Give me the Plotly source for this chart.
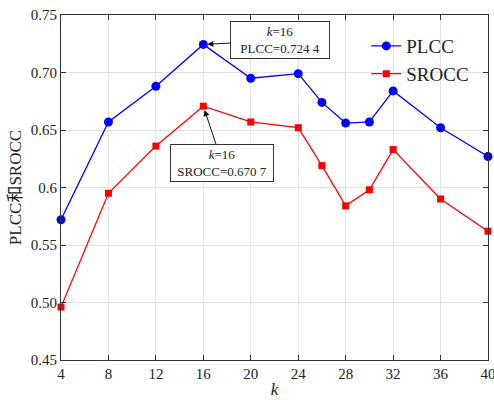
import plotly.graph_objects as go

k_values = [4, 8, 12, 16, 20, 24, 26, 28, 30, 32, 36, 40]
plcc = [0.572, 0.657, 0.688, 0.7244, 0.695, 0.699, 0.674, 0.656, 0.657, 0.684, 0.652, 0.627]
srocc = [0.496, 0.595, 0.636, 0.6707, 0.657, 0.652, 0.619, 0.584, 0.598, 0.633, 0.590, 0.562]
x_ticks = [4, 8, 12, 16, 20, 24, 28, 32, 36, 40]
y_ticks = [0.45, 0.50, 0.55, 0.60, 0.65, 0.70, 0.75]
y_tick_labels = ["0.45", "0.50", "0.55", "0.6", "0.65", "0.70", "0.75"]

serif = "Liberation Serif"
serif_cjk = "Liberation Serif, Noto Sans CJK SC"

fig = go.Figure()
fig.add_trace(go.Scatter(
    x=k_values, y=plcc, name="PLCC", mode="lines+markers",
    line=dict(color="#0000FF", width=1.3),
    marker=dict(symbol="circle", size=9, color="#0000FF"),
    cliponaxis=False,
))
fig.add_trace(go.Scatter(
    x=k_values, y=srocc, name="SROCC", mode="lines+markers",
    line=dict(color="#FF0000", width=1.3),
    marker=dict(symbol="square", size=7, color="#FF0000"),
    cliponaxis=False,
))

ann_font = dict(family=serif, size=13, color="#222")
fig.add_annotation(
    x=16, y=plcc[3], text="<i>k</i>=16<br>PLCC=0.724 4",
    showarrow=True, ax=77, ay=-4, arrowhead=2, arrowsize=1.2, arrowwidth=1,
    arrowcolor="#111", standoff=4,
    bordercolor="#333", borderwidth=1, borderpad=2, bgcolor="white",
    font=ann_font, width=94, align="center",
)
fig.add_annotation(
    x=16, y=srocc[3], text="<i>k</i>=16<br>SROCC=0.670 7",
    showarrow=True, ax=19, ay=57, arrowhead=2, arrowsize=1.2, arrowwidth=1,
    arrowcolor="#111", standoff=4,
    bordercolor="#333", borderwidth=1, borderpad=2, bgcolor="white",
    font=ann_font, width=98, align="center",
)

axis_common = dict(
    showline=True, linecolor="#333", linewidth=1, mirror="allticks",
    ticks="inside", ticklen=5, tickcolor="#333",
    showgrid=True, gridcolor="#E3E3E3", gridwidth=1,
    zeroline=False, automargin=False,
    tickfont=dict(family=serif, size=15, color="#222"),
)

fig.update_layout(
    width=494, height=400,
    margin=dict(l=61, r=6, t=15, b=40),
    paper_bgcolor="white", plot_bgcolor="white",
    font=dict(family=serif, color="#222"),
    xaxis=dict(range=[4, 40], tickvals=x_ticks, ticklabeloverflow="allow",
               title=dict(text="<i>k</i>", font=dict(family=serif, size=17), standoff=2),
               **axis_common),
    yaxis=dict(range=[0.45, 0.75], tickvals=y_ticks, ticktext=y_tick_labels,
               title=dict(text="PLCC和SROCC", font=dict(family=serif_cjk, size=17), standoff=4),
               **axis_common),
    legend=dict(x=0.715, y=0.965, xanchor="left", yanchor="top",
                bgcolor="rgba(0,0,0,0)", borderwidth=0,
                font=dict(family=serif, size=19, color="#222"),
                tracegroupgap=0, itemwidth=30),
    showlegend=True,
)

fig.write_html("out.html")
